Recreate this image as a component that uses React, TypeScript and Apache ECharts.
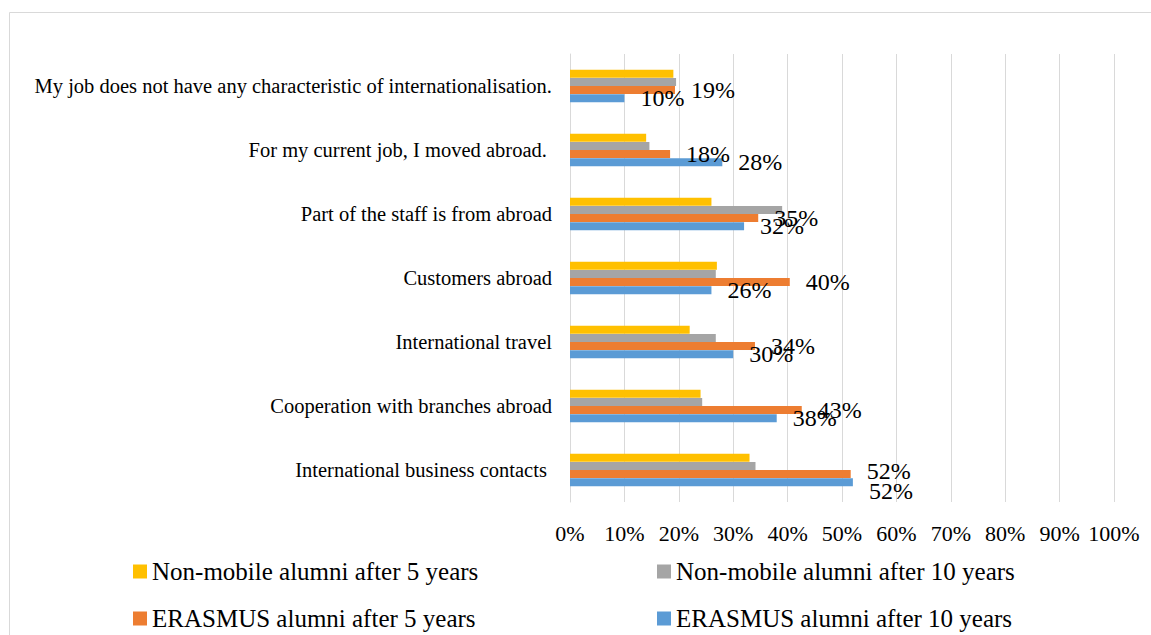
import React, { useEffect, useRef } from "react";
import * as echarts from "echarts";

const categories = [
  "International business contacts ",
  "Cooperation with branches abroad",
  "International travel",
  "Customers abroad",
  "Part of the staff is from abroad",
  "For my current job, I moved abroad. ",
  "My job does not have any characteristic of internationalisation.",
];

const nonMobile5 = [33, 24, 22, 27, 26, 14, 19];
const nonMobile10 = [34.1, 24.3, 26.8, 26.8, 39, 14.6, 19.5];
const erasmus5 = [51.6, 42.6, 34, 40.4, 34.6, 18.4, 19.3];
const erasmus10 = [52, 38, 30, 26, 32, 28, 10];

const seriesNames = [
  "Non-mobile alumni after 5 years",
  "Non-mobile alumni after 10 years",
  "ERASMUS alumni after 5 years",
  "ERASMUS alumni after 10 years",
];
const colors = ["#FFC000", "#A5A5A5", "#ED7D31", "#5B9BD5"];
const xTicks = [0, 10, 20, 30, 40, 50, 60, 70, 80, 90, 100];

const FONT = "Liberation Serif";

export default function App() {
  const ref = useRef<HTMLDivElement>(null);
  useEffect(() => {
    if (!ref.current) return;
    const chart = echarts.init(ref.current, undefined, { renderer: "svg" });
    const data = [nonMobile5, nonMobile10, erasmus5, erasmus10];
    const label = {
      show: true,
      position: "right" as const,
      distance: 16,
      fontFamily: FONT,
      fontSize: 24,
      color: "#000",
      formatter: (p: any) => Math.round(p.value) + "%",
    };
    // Excel nudges the overlapping labels of the bottom group apart
    const nudges: Record<number, Record<number, number>> = {
      2: { 0: -3 },
      3: { 0: 9 },
    };
    const legendPos = [
      { left: 133, top: 559 },
      { left: 657, top: 559 },
      { left: 133, top: 606 },
      { left: 657, top: 606 },
    ];
    chart.setOption({
      animation: false,
      backgroundColor: "#fff",
      color: colors,
      textStyle: { fontFamily: FONT },
      graphic: [
        {
          type: "rect",
          shape: { x: 9.5, y: 12.5, width: 1300, height: 800 },
          style: { fill: "none", stroke: "#d9d9d9", lineWidth: 1 },
          silent: true,
        },
      ],
      legend: seriesNames.map((n, i) => ({
        data: [n],
        left: legendPos[i].left,
        top: legendPos[i].top,
        padding: 0,
        itemWidth: 14,
        itemHeight: 14,
        icon: "rect",
        textStyle: { fontFamily: FONT, fontSize: 25, color: "#000" },
      })),
      grid: { left: 570, right: 37, top: 54, bottom: 133, containLabel: false },
      xAxis: {
        type: "value",
        min: xTicks[0],
        max: xTicks[xTicks.length - 1],
        interval: 10,
        axisLine: { show: false },
        axisTick: { show: false },
        splitLine: { show: true, lineStyle: { color: "#d9d9d9", width: 1 } },
        axisLabel: {
          formatter: (v: number) => v + "%",
          fontFamily: FONT,
          fontSize: 22,
          color: "#000",
          margin: 20,
        },
      },
      yAxis: {
        type: "category",
        data: categories,
        axisLine: { show: true, lineStyle: { color: "#d9d9d9" } },
        axisTick: { show: false },
        axisLabel: {
          fontFamily: FONT,
          fontSize: 20.5,
          color: "#000",
          margin: 18,
          padding: [0, 0, 6, 0],
        },
      },
      series: seriesNames.map((n, i) => ({
        name: n,
        type: "bar",
        data: data[i].map((v, j) =>
          nudges[i] && nudges[i][j] !== undefined
            ? { value: v, label: { offset: [0, nudges[i][j]] } }
            : v
        ),
        barWidth: 8,
        barGap: "3%",
        label: i >= 2 ? label : { show: false },
        itemStyle: { color: colors[i] },
      })),
    });
    return () => chart.dispose();
  }, []);
  return (
    <div
      ref={ref}
      style={{ position: "fixed", left: 0, top: 0, width: 1151, height: 635 }}
    />
  );
}
